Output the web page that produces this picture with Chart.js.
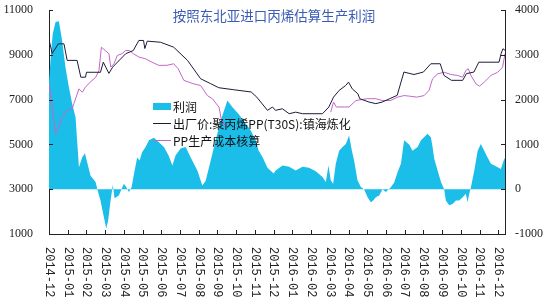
<!DOCTYPE html>
<html>
<head>
<meta charset="utf-8">
<script src="https://cdn.jsdelivr.net/npm/chart.js@4/dist/chart.umd.min.js"></script>
<style>
  html, body { margin: 0; padding: 0; background: #fff; }
  #wrap { width: 550px; height: 300px; }
</style>
</head>
<body>
<div id="wrap"><canvas id="profit"></canvas></div>
<script>
// month index: 0 = 2014-12, 24 = 2016-12
const tickLabels = ['2014-12', '2015-01', '2015-02', '2015-03', '2015-04', '2015-05', '2015-06',
    '2015-07', '2015-08', '2015-09', '2015-10', '2015-11', '2015-12', '2016-01', '2016-02',
    '2016-03', '2016-04', '2016-05', '2016-06', '2016-07', '2016-08', '2016-09', '2016-10',
    '2016-11', '2016-12'];

// 利润 (right axis)
const profitMonths = [0, 0.1, 0.2, 0.35, 0.53, 0.7, 0.88, 1.06, 1.24, 1.42, 1.5, 1.6, 1.77, 1.92,
    2.04, 2.22, 2.49, 2.58, 2.75, 2.93, 3.06, 3.16, 3.29, 3.41, 3.5, 3.73, 4.0, 4.13, 4.27, 4.41,
    4.54, 4.71, 4.84, 4.98, 5.16, 5.34, 5.6, 5.87, 6.14, 6.39, 6.59, 6.76, 7.03, 7.3, 7.57, 7.93,
    8.19, 8.37, 8.64, 8.9, 9.17, 9.53, 9.8, 10.13, 10.4, 10.78, 11.04, 11.2, 11.42, 11.67, 12.0,
    12.11, 12.47, 12.83, 13.18, 13.54, 13.89, 14.25, 14.61, 14.79, 14.93, 15.05, 15.18, 15.32,
    15.5, 15.68, 15.86, 16.03, 16.18, 16.3, 16.48, 16.66, 16.83, 17.02, 17.19, 17.32, 17.46,
    17.64, 17.82, 17.99, 18.26, 18.44, 18.62, 18.8, 18.97, 19.24, 19.42, 19.69, 19.87, 20.04,
    20.22, 20.4, 20.49, 20.58, 20.76, 20.94, 21.11, 21.2, 21.38, 21.56, 21.74, 21.91, 22.1,
    22.27, 22.36, 22.45, 22.54, 22.72, 22.9, 23.07, 23.25, 23.43, 23.61, 23.79, 23.97, 24.14,
    24.29, 24.36];
const profitValues = [2400, 3000, 3470, 3730, 3750, 3320, 2720, 2280, 1900, 1600, 1090, 490, 710, 800,
    600, 300, 160, 0, -250, -620, -880, -700, -250, 100, -200, -140, 120, 45, -60, 45,
    340, 710, 640, 830, 940, 1090, 1150, 1050, 940, 750, 530, 750, 910, 940, 710, 410,
    80, 190, 640, 1090, 1530, 1980, 1830, 1680, 1530, 1310, 1090, 860, 710, 480, 350,
    420, 530, 500, 420, 500, 480, 400, 270, 160, 530, 200, 120, 570,
    860, 940, 1010, 1200, 860, 640, 200, 50, 0, -180, -290, -250, -180,
    -140, 0, -60, 45, 150, 380, 570, 1090, 1000, 860, 940, 1090, 1160,
    1240, 1160, 940, 680, 420, 160, 0, -250, -360, -330, -250, -250, -180,
    -100, -290, -100, 45, 420, 860, 1010, 860, 710, 570, 530, 490, 450,
    640, 700];

// 出厂价:聚丙烯PP(T30S):镇海炼化 (left axis)
const priceMonths = [0, 0.17, 0.5, 0.8, 0.97, 1.5, 1.7, 1.95, 2.0, 2.75, 2.9, 3.2, 3.4, 4.1, 4.5,
    4.8, 5.05, 5.12, 5.25, 5.96, 6.66, 7.4, 8.1, 8.64, 9.07, 9.87, 10.8, 11.1, 11.67, 11.94,
    12.1, 12.47, 12.83, 13.18, 13.54, 14.61, 14.95, 15.2, 15.5, 15.85, 16.0, 16.2, 16.5, 16.6,
    17.1, 17.46, 17.8, 18.2, 18.6, 18.96, 19.5, 20.0, 20.4, 20.9, 21.1, 21.5, 22.1, 22.3, 22.7,
    22.96, 24.04, 24.15, 24.25, 24.36];
const priceValues = [9680, 9060, 9490, 9490, 8750, 8750, 8000, 8000, 8220, 8220, 8670, 8170, 8450, 9050, 9190,
    9640, 9640, 9280, 9610, 9560, 9340, 8750, 7930, 7710, 7530, 7440, 7340, 7110, 6520, 6670,
    6520, 6590, 6370, 6440, 6370, 6370, 6670, 7110, 7410, 7630, 7780, 7480, 7260, 7040,
    6890, 6820, 6890, 7040, 7190, 8230, 8120, 8230, 8600, 8600, 8080, 7860, 7860, 8160, 8230,
    8670, 8670, 9050, 9270, 9200];

// PP生产成本核算 (left axis); null where the line is not visible
const costMonths = [0, 0.35, 0.53, 0.7, 0.97, 1.24, 1.33, 1.45, 1.6, 1.78, 1.95, 2.2, 2.5, 2.67, 2.8,
    3.0, 3.2, 3.3, 3.47, 3.65, 3.9, 4.1, 4.3, 4.5, 4.8, 5.16, 5.5, 5.86, 6.3, 6.66, 6.9, 7.2,
    7.7, 8.1, 8.46, 8.73, 9.08, 9.2, 9.44, 12, 15.05, 15.2, 15.35, 15.8, 16.03, 16.4, 17.0,
    17.46, 17.8, 18.26, 18.62, 18.97, 19.3, 19.65, 20.04, 20.3, 20.49, 20.76, 21.11, 21.47,
    21.82, 22.1, 22.27, 22.4, 22.54, 22.81, 23.0, 23.25, 23.61, 23.97, 24.23, 24.36];
const costValues = [7710, 5480, 5770, 6220, 6520, 6590, 6820, 7110, 7480, 7330, 7560, 7780, 8000, 8300, 9340,
    9190, 9050, 8450, 8600, 8970, 9050, 9190, 9190, 9050, 8900, 8820, 8670, 8530, 8530, 8600, 8380, 7860,
    7710, 7630, 7180, 7040, 6660, 6140, 5770, null, 6440, 6890, 6670, 6670, 6670, 6960, 7040,
    7040, 6960, 6960, 7110, 7180, 7150, 7110, 7180, 7410, 7930, 8150, 8220, 8120,
    8080, 8000, 8300, 8380, 8080, 7700, 7600, 7780, 8080, 8220, 8450, 9050];

const toPoints = (xs, ys) => xs.map((x, i) => ({ x: x, y: ys[i] }));

const cyan = '#1bbde9';
const dark = '#1c1c38';
const pink = '#c466c8';
const axisColor = '#222';
const tickFont = { family: '"Liberation Serif", serif', size: 12 };

const overlay = {
    id: 'overlay',
    afterDraw(chart) {
        const ctx = chart.ctx;
        const area = chart.chartArea;
        const xs = chart.scales.x, yl = chart.scales.y, yr = chart.scales.y1;
        ctx.save();

        // inward tick marks
        ctx.strokeStyle = axisColor;
        ctx.lineWidth = 1;
        ctx.beginPath();
        yl.ticks.forEach(t => {
            const y = Math.round(yl.getPixelForValue(t.value)) + 0.5;
            ctx.moveTo(area.left, y); ctx.lineTo(area.left + 4, y);
        });
        yr.ticks.forEach(t => {
            const y = Math.round(yr.getPixelForValue(t.value)) + 0.5;
            ctx.moveTo(area.right - 4, y); ctx.lineTo(area.right, y);
        });
        tickLabels.forEach((l, i) => {
            const x = Math.round(xs.getPixelForValue(i)) + 0.5;
            ctx.moveTo(x, area.bottom); ctx.lineTo(x, area.bottom - 4);
        });
        ctx.stroke();

        // x labels, rotated clockwise
        ctx.fillStyle = '#222';
        ctx.font = '12px "Liberation Mono"';
        ctx.textAlign = 'left';
        ctx.textBaseline = 'middle';
        tickLabels.forEach((l, i) => {
            const x = xs.getPixelForValue(i);
            ctx.save();
            ctx.translate(x, area.bottom + 13);
            ctx.rotate(Math.PI / 2);
            ctx.fillText(l, 0, 0);
            ctx.restore();
        });

        // title
        ctx.fillStyle = '#3a5cb4';
        ctx.font = '13.5px "Noto Sans CJK SC"';
        ctx.textAlign = 'center';
        ctx.fillText('按照东北亚进口丙烯估算生产利润', 274, 16);

        // legend
        ctx.textAlign = 'left';
        ctx.font = '12px "Noto Sans CJK SC"';
        ctx.fillStyle = cyan;
        ctx.fillRect(153, 103, 18, 7);
        ctx.fillStyle = '#111';
        ctx.fillText('利润', 173, 107);
        ctx.strokeStyle = dark;
        ctx.beginPath(); ctx.moveTo(153, 123.5); ctx.lineTo(171, 123.5); ctx.stroke();
        ctx.fillText('出厂价:聚丙烯PP(T30S):镇海炼化', 173, 124);
        ctx.strokeStyle = pink;
        ctx.beginPath(); ctx.moveTo(153, 140.5); ctx.lineTo(171, 140.5); ctx.stroke();
        ctx.fillText('PP生产成本核算', 173, 141);

        ctx.restore();
    }
};

new Chart(document.getElementById('profit'), {
    type: 'line',
    data: {
        datasets: [{
            label: '出厂价:聚丙烯PP(T30S):镇海炼化',
            data: toPoints(priceMonths, priceValues),
            borderColor: dark,
            borderWidth: 1,
            pointRadius: 0,
            tension: 0,
            yAxisID: 'y',
            order: 1
        }, {
            label: 'PP生产成本核算',
            data: toPoints(costMonths, costValues),
            borderColor: pink,
            borderWidth: 1,
            pointRadius: 0,
            tension: 0,
            spanGaps: false,
            yAxisID: 'y',
            order: 2
        }, {
            label: '利润',
            data: toPoints(profitMonths, profitValues),
            borderWidth: 0,
            borderColor: cyan,
            backgroundColor: cyan,
            fill: 'origin',
            pointRadius: 0,
            tension: 0,
            yAxisID: 'y1',
            order: 3
        }]
    },
    options: {
        responsive: true,
        maintainAspectRatio: false,
        animation: false,
        layout: { padding: { top: 10 } },
        plugins: {
            legend: { display: false },
            tooltip: { enabled: false }
        },
        scales: {
            x: {
                type: 'linear',
                min: 0,
                max: 24.36,
                ticks: { display: false },
                grid: { display: false },
                border: { color: axisColor },
                afterFit: s => { s.height = 66; s.paddingLeft = 0; s.paddingRight = 0; }
            },
            y: {
                position: 'left',
                min: 1000,
                max: 11000,
                ticks: { stepSize: 2000, color: '#222', font: tickFont, padding: 16, callback: v => String(v) },
                grid: { drawOnChartArea: false, drawTicks: false },
                border: { color: axisColor },
                afterFit: s => { s.width = 49; s.paddingTop = 0; s.paddingBottom = 0; }
            },
            y1: {
                position: 'right',
                min: -1000,
                max: 4000,
                ticks: { stepSize: 1000, color: '#222', font: tickFont, padding: 10, callback: v => String(v) },
                grid: { drawOnChartArea: false, drawTicks: false },
                border: { color: axisColor },
                afterFit: s => { s.width = 45; s.paddingTop = 0; s.paddingBottom = 0; }
            }
        }
    },
    plugins: [overlay]
});
</script>
</body>
</html>
